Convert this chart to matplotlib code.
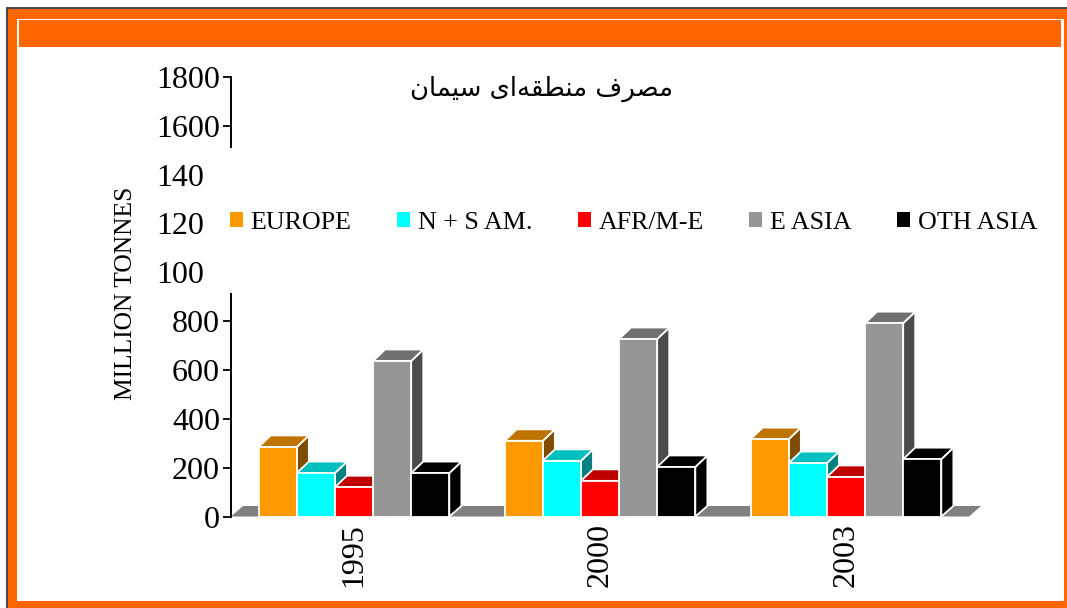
import matplotlib
matplotlib.use("Agg")
import matplotlib.pyplot as plt
from matplotlib.patches import Patch, Polygon, Rectangle
from matplotlib.transforms import Affine2D

W = 1067
H = 608

years = ["1995", "2000", "2003"]
series = ["EUROPE", "N + S AM.", "AFR/M-E", "E ASIA", "OTH ASIA"]
europe = [285, 310, 317]
americas = [178, 228, 219]
africa = [120, 146, 162]
east_asia = [637, 727, 792]
other_asia = [178, 203, 235]
yticks = [0, 200, 400, 600, 800, 1000, 1200, 1400, 1600, 1800]

front_colors = ["#FF9900", "#00FFFF", "#FF0000", "#969696", "#000000"]
top_colors = ["#BF7300", "#00BFBF", "#BF0000", "#707070", "#000000"]
side_colors = ["#804D00", "#008080", "#800000", "#4B4B4B", "#000000"]

BAR_W = 0.155
DX = 0.049
DY = 47
FLOOR_DY = 43

plt.rcParams["font.family"] = ["Liberation Serif", "DejaVu Sans"]

# pixel coords, origin top left like the picture
px = Affine2D().scale(1, -1).translate(0, H)


def frame_rect(x0, y0, x1, y1, color, zorder=-5):
    fig.add_artist(Rectangle((x0, y0), x1 - x0, y1 - y0, transform=px,
                             facecolor=color, edgecolor="none", zorder=zorder))


fig = plt.figure(figsize=(W / 100, H / 100), dpi=100, facecolor="white")

frame_rect(6, 7, W, H, "#4A4A4A")
frame_rect(7.5, 9, W, H, "#FF6600")
frame_rect(17, 18.5, 1063.7, 601, "white")
frame_rect(18.7, 20.3, 1061.3, 47, "#FF6600")

ax = fig.add_axes([231 / W, 1 - 516.5 / H, (969 - 231) / W, (516.5 - 77) / H])
ax.patch.set_visible(False)
ax.set_xlim(-0.5, 2.5)
ax.set_ylim(0, 1800)

for name in ["top", "right", "bottom"]:
    ax.spines[name].set_visible(False)
ax.spines["left"].set_linewidth(1.4)

ax.set_yticks(yticks)
ax.set_xticks(range(len(years)))
ax.set_xticklabels(years, rotation=90, fontsize=23)
ax.tick_params(axis="y", labelsize=23, length=6, width=1.3, pad=2)
ax.tick_params(axis="x", length=0, pad=5)
ax.set_ylabel("MILLION TONNES", fontsize=18.4)
ax.yaxis.set_label_coords(137, H - 293.5, transform=Affine2D())

# floor behind the bars
ax.add_patch(Polygon([(-0.5, 0), (-0.5 + DX, FLOOR_DY), (2.5 + DX, FLOOR_DY), (2.5, 0)],
                     closed=True, facecolor="#808080", edgecolor="none",
                     clip_on=False, zorder=1))

values = [europe, americas, africa, east_asia, other_asia]
for i in range(len(years)):
    for j in range(len(series)):
        v = values[j][i]
        left = i + (j - 2.5) * BAR_W
        right = left + BAR_W
        style = dict(edgecolor="white", linewidth=1.3, clip_on=False,
                     zorder=3 + i + j * 0.1, joinstyle="miter")
        ax.add_patch(Polygon([(right, 0), (right + DX, FLOOR_DY), (right + DX, v + DY), (right, v)],
                             closed=True, facecolor=side_colors[j], **style))
        ax.add_patch(Polygon([(left, v), (left + DX, v + DY), (right + DX, v + DY), (right, v)],
                             closed=True, facecolor=top_colors[j], **style))
        ax.add_patch(Rectangle((left, 0), BAR_W, v, facecolor=front_colors[j], **style))

# white legend panel hides part of the axis and tick labels
ax.add_patch(Rectangle((203, 148), 845, 145, transform=px, facecolor="white",
                       edgecolor="none", clip_on=False, zorder=8))

handles = [Patch(facecolor=c, edgecolor="none") for c in front_colors]
leg = ax.legend(handles, series, loc="center left", bbox_to_anchor=(230, H - 223),
                bbox_transform=Affine2D(), ncol=5, frameon=False, fontsize=18.7,
                handlelength=0.5, handleheight=0.52, handletextpad=0.3,
                columnspacing=1.75, borderpad=0, borderaxespad=0)
leg.set_zorder(9)

# Persian title, shaped glyphs in visual order since matplotlib does no shaping
title_words = ["\uFEE3\uFEBC\uFEAE\uFED1",
               "\uFEE3\uFEE8\uFEC4\uFED8\uFEEA\uFE8D\uFBFC",
               "\uFEB3\uFBFF\uFEE4\uFE8E\uFEE5"]
title_text = " ".join(title_words)[::-1]
fig.text(542 / W, 1 - 89 / H, title_text, family=["DejaVu Sans"], fontsize=18.6,
         ha="center", va="center", zorder=10)

fig.savefig("out.png", dpi=100)
